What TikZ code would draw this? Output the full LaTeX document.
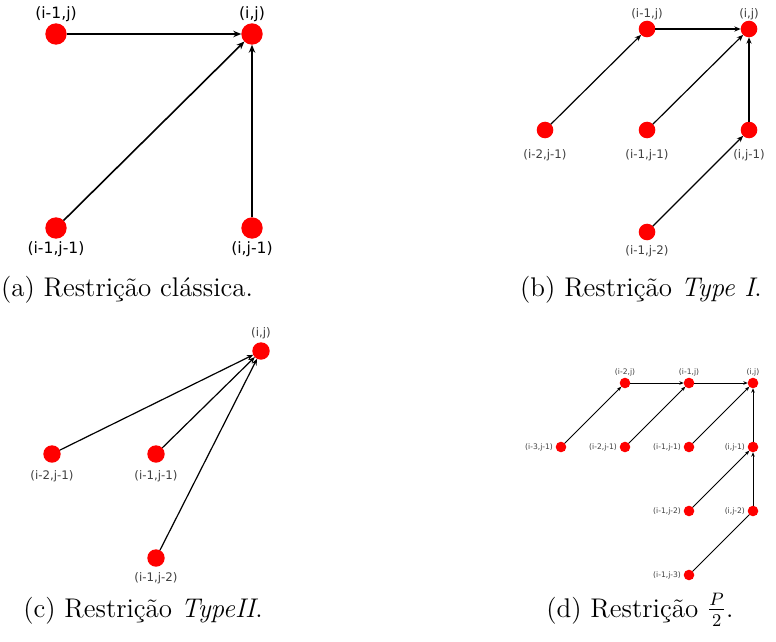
\documentclass[tikz,border=0pt]{standalone}
\usepackage{fontspec}
\newfontfamily\rotulofont{DejaVu Sans}
\usetikzlibrary{arrows.meta}

\begin{document}
\begin{tikzpicture}[
        x=0.5pt, y=-0.5pt,
        >=Stealth,
        vert/.style={circle, fill=red, inner sep=0pt, outer sep=0pt},
        vertA/.style={vert, minimum size=10.7pt},
        vertB/.style={vert, minimum size=8.3pt},
        vertC/.style={vert, minimum size=8.7pt},
        vertD/.style={vert, minimum size=5.3pt},
        rotA/.style={font=\rotulofont\fontsize{7.8}{9}\selectfont, inner sep=0pt},
        rotB/.style={font=\rotulofont\fontsize{5.9}{7}\selectfont, text=black!75, inner sep=0pt},
        rotD/.style={font=\rotulofont\fontsize{3.8}{4.5}\selectfont, text=black!75, inner sep=0pt},
        arrA/.style={-{Stealth[length=4pt, width=3.2pt]}, line width=0.8pt},
        arrB/.style={-{Stealth[length=3.2pt, width=2.6pt]}, line width=0.6pt},
        arrD/.style={-{Stealth[length=2.2pt, width=1.8pt]}, line width=0.45pt},
        legenda/.style={font=\fontsize{13.5}{16}\selectfont, anchor=base, inner sep=0pt}
    ]
        \useasboundingbox (0,0) rectangle (776,642);

        % (a) Restricao classica
        \node[vertA, label={[rotA, label distance=0.5pt]above:(i-1,j)}] (a10) at (56,34) {};
        \node[vertA, label={[rotA, label distance=0.5pt]above:(i,j)}] (a00) at (252,34) {};
        \node[vertA, label={[rotA, label distance=1.5pt]below:(i-1,j-1)}] (a11) at (56,228) {};
        \node[vertA, label={[rotA, label distance=1.5pt]below:(i,j-1)}] (a01) at (252,228) {};
        \draw[arrA] (a10) -- (a00);
        \draw[arrA] (a11) -- (a00);
        \draw[arrA] (a01) -- (a00);

        % (b) Restricao Type I
        \node[vertB, label={[rotB, label distance=0pt]above:(i-1,j)}] (b10) at (647,29) {};
        \node[vertB, label={[rotB, label distance=0pt]above:(i,j)}] (b00) at (749,29) {};
        \node[vertB, label={[rotB, label distance=5.5pt]below:(i-2,j-1)}] (b21) at (545,130) {};
        \node[vertB, label={[rotB, label distance=5.5pt]below:(i-1,j-1)}] (b11) at (647,130) {};
        \node[vertB, label={[rotB, label distance=5.5pt]below:(i,j-1)}] (b01) at (749,130) {};
        \node[vertB, label={[rotB, label distance=2.5pt]below:(i-1,j-2)}] (b12) at (647,232) {};
        \draw[arrB] (b21) -- (b10);
        \draw[arrB] (b10) -- (b00);
        \draw[arrB] (b11) -- (b00);
        \draw[arrB] (b01) -- (b00);
        \draw[arrB] (b12) -- (b01);

        % (c) Restricao TypeII
        \node[vertC, label={[rotB, label distance=1.6pt]above:(i,j)}] (c00) at (261,351) {};
        \node[vertC, label={[rotB, label distance=3.5pt]below:(i-2,j-1)}] (c21) at (52,454) {};
        \node[vertC, label={[rotB, label distance=3.5pt]below:(i-1,j-1)}] (c11) at (156,454) {};
        \node[vertC, label={[rotB, label distance=2.6pt]below:(i-1,j-2)}] (c12) at (156,558) {};
        \draw[arrB] (c21) -- (c00);
        \draw[arrB] (c11) -- (c00);
        \draw[arrB] (c12) -- (c00);

        % (d) Restricao P/2
        \node[vertD, label={[rotD, label distance=0.55pt]above:(i-2,j)}] (d20) at (625,383) {};
        \node[vertD, label={[rotD, label distance=0.55pt]above:(i-1,j)}] (d10) at (689,383) {};
        \node[vertD, label={[rotD, label distance=0.55pt]above:(i,j)}] (d00) at (753,383) {};
        \node[vertD, label={[rotD, label distance=1.2pt]left:(i-3,j-1)}] (d31) at (561,447) {};
        \node[vertD, label={[rotD, label distance=1.2pt]left:(i-2,j-1)}] (d21) at (625,447) {};
        \node[vertD, label={[rotD, label distance=1.2pt]left:(i-1,j-1)}] (d11) at (689,447) {};
        \node[vertD, label={[rotD, label distance=1.2pt]left:(i,j-1)}] (d01) at (753,447) {};
        \node[vertD, label={[rotD, label distance=1.2pt]left:(i-1,j-2)}] (d12) at (689,511) {};
        \node[vertD, label={[rotD, label distance=1.2pt]left:(i,j-2)}] (d02) at (753,511) {};
        \node[vertD, label={[rotD, label distance=1.2pt]left:(i-1,j-3)}] (d13) at (689,575) {};
        \draw[arrD] (d31) -- (d20);
        \draw[arrD] (d20) -- (d10);
        \draw[arrD] (d21) -- (d10);
        \draw[arrD] (d10) -- (d00);
        \draw[arrD] (d11) -- (d00);
        \draw[arrD] (d01) -- (d00);
        \draw[arrD] (d12) -- (d01);
        \draw[arrD] (d02) -- (d01);
        \draw[line width=0.45pt] (d13) -- (d02);

        % Legendas
        \node[legenda] (legA) at (127,296) {(a) Restrição clássica.};
        \node[legenda] (legB) at (641,296) {(b) Restrição \textit{Type I}.};
        \node[legenda] (legC) at (143,617) {(c) Restrição \textit{TypeII}.};
        \node[legenda] (legD) at (640,617) {(d) Restrição $\frac{P}{2}$.};
    \end{tikzpicture}
\end{document}
